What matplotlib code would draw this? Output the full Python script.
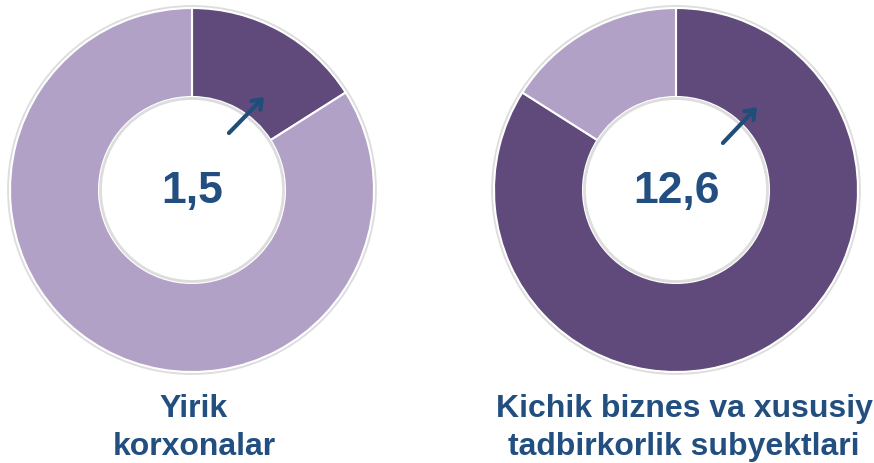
import matplotlib.pyplot as plt
from matplotlib.patches import Circle

# data
groups = ["Yirik\nkorxonalar", "Kichik biznes va xususiy\ntadbirkorlik subyektlari"]
values = ["1,5", "12,6"]
dark_share = [16, 84]
light_share = [84, 16]

dark = "#604A7B"
light = "#B2A1C7"
blue = "#224F80"

W, H = 874, 463
fig = plt.figure(figsize=(W / 100, H / 100), dpi=100)
ax = fig.add_axes([0, 0, 1, 1])

centers = [(192, H - 190), (676, H - 190)]
label_x = [194, 684]
r_out = 182
r_in = 93

for i, (cx, cy) in enumerate(centers):
    ax.add_patch(Circle((cx, cy), r_out + 1.5, facecolor="none", edgecolor="#DDDDDD", lw=2, zorder=0))
    ax.add_patch(Circle((cx, cy), r_in - 1.5, facecolor="none", edgecolor="#DDDDDD", lw=2, zorder=3))
    ax.pie([dark_share[i], light_share[i]], colors=[dark, light], startangle=90,
           counterclock=False, center=(cx, cy), radius=r_out, frame=True,
           wedgeprops=dict(width=r_out - r_in, edgecolor="white", linewidth=1.5))
    ax.text(cx, cy - 2, values[i], ha="center", va="center", fontsize=32,
            fontweight="bold", color=blue, family="Liberation Sans")
    # two label lines, baselines
    for line, base in zip(groups[i].split("\n"), [417, 455]):
        ax.text(label_x[i], H - base, line, ha="center", va="baseline",
                fontsize=23, fontweight="bold", color=blue, family="Liberation Sans")

# small arrows
arrows = [((227, 135), (266, 95)), ((721, 145), (759, 105))]
for (x0, y0), (x1, y1) in arrows:
    ax.annotate("", xy=(x1, H - y1), xytext=(x0, H - y0),
                arrowprops=dict(arrowstyle="->,head_length=0.6,head_width=0.45",
                                color="#1F4E79", lw=3))

ax.set_xlim(0, W)
ax.set_ylim(0, H)
ax.set_aspect("equal")
ax.axis("off")

fig.savefig("out.png", dpi=100)
